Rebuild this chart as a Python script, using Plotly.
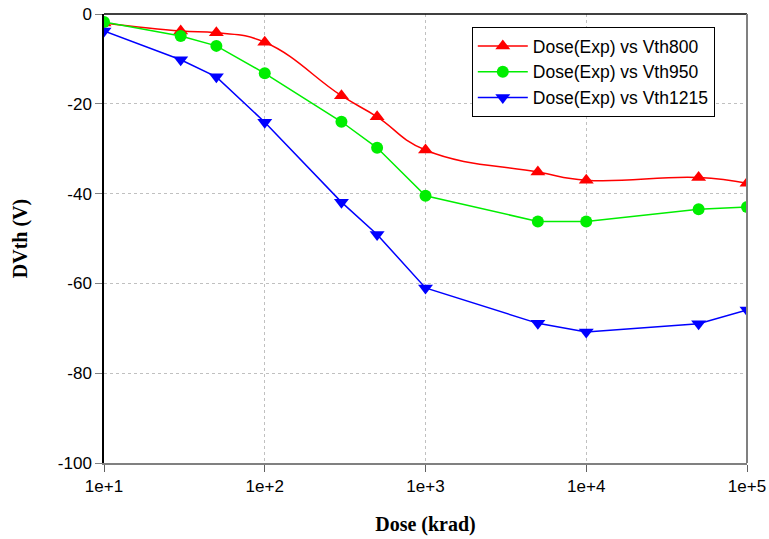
import plotly.graph_objects as go

dose = [10, 30, 50, 100, 300, 500, 1000, 5000, 10000, 50000, 100000]
vth800 = [-2.0, -3.8, -4.2, -6.3, -18.2, -22.9, -30.3, -35.2, -37.0, -36.4, -37.7]
vth950 = [-1.8, -4.9, -7.1, -13.2, -24.0, -29.8, -40.5, -46.2, -46.2, -43.5, -43.0]
vth1215 = [-3.8, -10.2, -14.0, -24.1, -41.9, -49.1, -61.0, -68.9, -70.8, -69.0, -65.9]
names = ["Dose(Exp) vs Vth800", "Dose(Exp) vs Vth950", "Dose(Exp) vs Vth1215"]
x_tickvals = [10, 100, 1000, 10000, 100000]
x_ticktext = ["1e+1", "1e+2", "1e+3", "1e+4", "1e+5"]
y_tickvals = [0, -20, -40, -60, -80, -100]
y_ticktext = ["0", "-20", "-40", "-60", "-80", "-100"]

fig = go.Figure()
fig.add_trace(go.Scatter(x=dose, y=vth800, name=names[0], mode="lines+markers",
                         line=dict(color="#ff0000", width=1.5, shape="spline", smoothing=1.3),
                         marker=dict(symbol="triangle-up", size=13, color="#ff0000")))
fig.add_trace(go.Scatter(x=dose, y=vth950, name=names[1], mode="lines+markers",
                         line=dict(color="#00ee00", width=1.5),
                         marker=dict(symbol="circle", size=12, color="#00ee00")))
fig.add_trace(go.Scatter(x=dose, y=vth1215, name=names[2], mode="lines+markers",
                         line=dict(color="#0000ff", width=1.5),
                         marker=dict(symbol="triangle-down", size=13, color="#0000ff")))

serif = "Liberation Serif, Times New Roman, serif"
fig.update_layout(
    width=769, height=539,
    margin=dict(l=104, r=22, t=14, b=76, autoexpand=False),
    plot_bgcolor="white", paper_bgcolor="white",
    font=dict(family="Liberation Sans, Arial, sans-serif", size=17, color="black"),
    legend=dict(x=0.572, y=0.971, xanchor="left", yanchor="top",
                bordercolor="black", borderwidth=1, bgcolor="white",
                font=dict(size=17.5), itemwidth=50, entrywidth=250, tracegroupgap=0),
    showlegend=True,
)
fig.update_xaxes(type="log", range=[1, 5], tickvals=x_tickvals, ticktext=x_ticktext,
                 automargin=False,
                 showgrid=True, gridcolor="#c0c0c0", griddash="dot", gridwidth=1,
                 showline=True, linecolor="#808080", linewidth=2,
                 ticks="outside", ticklen=7, tickcolor="#606060",
                 tickfont=dict(size=17),
                 title=dict(text="Dose (krad)", font=dict(family=serif, size=20, weight="bold"), standoff=22),
                 zeroline=False)
fig.update_yaxes(range=[-100, 0], tickvals=y_tickvals, ticktext=y_ticktext,
                 automargin=False,
                 showgrid=True, gridcolor="#c0c0c0", griddash="dot", gridwidth=1,
                 showline=True, linecolor="black", linewidth=1.5,
                 ticks="outside", ticklen=7, tickcolor="#808080",
                 tickfont=dict(size=17),
                 title=dict(text="DVth (V)", font=dict(family=serif, size=20, weight="bold"), standoff=25),
                 zeroline=False)
fig.add_shape(type="line", xref="paper", yref="paper", x0=0, x1=1, y0=1, y1=1,
              line=dict(color="black", width=1.5))
fig.add_shape(type="line", xref="paper", yref="paper", x0=1, x1=1, y0=0, y1=1,
              line=dict(color="#808080", width=2))

fig.write_html("out.html")
